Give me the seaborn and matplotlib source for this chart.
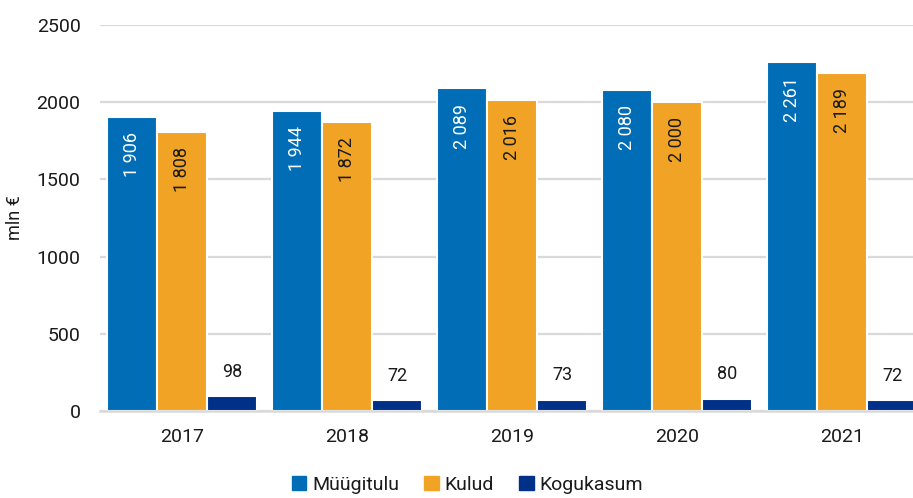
import matplotlib
matplotlib.use("Agg")
import matplotlib.pyplot as plt
import pandas as pd
import seaborn as sns

years = ["2017", "2018", "2019", "2020", "2021"]
muugitulu = [1906, 1944, 2089, 2080, 2261]
kulud = [1808, 1872, 2016, 2000, 2189]
kogukasum = [98, 72, 73, 80, 72]
series = ["Müügitulu", "Kulud", "Kogukasum"]
colors = ["#006db6", "#f0a324", "#003087"]

df = pd.DataFrame({
    "year": years * 3,
    "value": muugitulu + kulud + kogukasum,
    "series": [series[0]] * 5 + [series[1]] * 5 + [series[2]] * 5,
})

sns.set_theme(style="white")
plt.rcParams["font.family"] = ["Roboto", "DejaVu Sans"]

fig = plt.figure(figsize=(9.13, 4.98), dpi=100)
ax = fig.add_axes([100 / 913, 1 - 411 / 498, 1 - 100 / 913, (411 - 25) / 498])

sns.barplot(data=df, x="year", y="value", hue="series", palette=colors,
            width=0.91, edgecolor="white", linewidth=1.5, saturation=1, ax=ax)


def fmt(v):
    return f"{v:,}".replace(",", " ")


# values inside the two tall series, above the small one
for cont, vals, col in zip(ax.containers[:2], [muugitulu, kulud], ["white", "#1a1a1a"]):
    for bar, v in zip(cont, vals):
        ax.annotate(fmt(v), (bar.get_x() + bar.get_width() / 2, bar.get_height()),
                    xytext=(0, -11), textcoords="offset points", rotation=90,
                    ha="center", va="top", color=col, fontsize=13)
for bar, v in zip(ax.containers[2], kogukasum):
    ax.annotate(fmt(v), (bar.get_x() + bar.get_width() / 2, bar.get_height()),
                xytext=(0, 11), textcoords="offset points",
                ha="center", va="bottom", color="#1a1a1a", fontsize=13)

ax.set_ylim(0, 2500)
ax.set_yticks([0, 500, 1000, 1500, 2000, 2500])
ax.set_xlim(-0.5, 4.43)
ax.yaxis.grid(True, color="#d9d9d9", linewidth=1.6)
ax.set_axisbelow(True)
for s in ["top", "right", "left"]:
    ax.spines[s].set_visible(False)
ax.spines["bottom"].set_color("#d9d9d9")
ax.spines["bottom"].set_linewidth(1.8)
ax.tick_params(axis="y", length=0, pad=14, labelsize=14, labelcolor="#1a1a1a")
ax.tick_params(axis="x", length=0, pad=12, labelsize=14, labelcolor="#1a1a1a")
ax.set_xlabel("")
ax.set_ylabel("mln €", fontsize=13, color="#1a1a1a")
ax.yaxis.set_label_coords(-76 / 813, 0.5)

ax.get_legend().remove()
handles = [plt.Rectangle((0, 0), 1, 1, color=c) for c in colors]
fig.legend(handles, series, loc="center", bbox_to_anchor=(0.512, 0.026), ncol=3,
           frameon=False, fontsize=14, handlelength=0.75, handleheight=0.75,
           handletextpad=0.3, columnspacing=1.3, labelcolor="#1a1a1a")

fig.savefig("out.png", dpi=100)
